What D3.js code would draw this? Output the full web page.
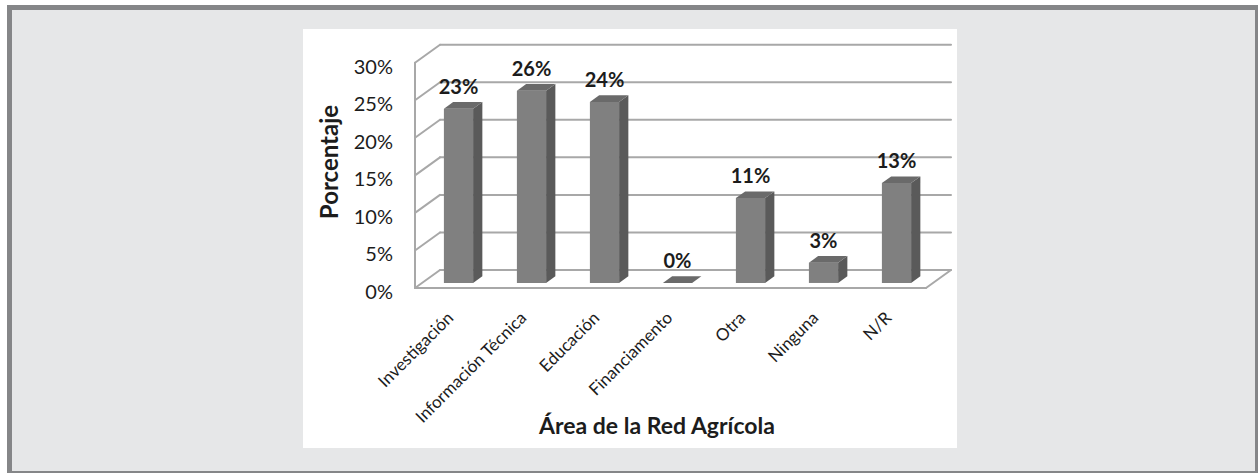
<!DOCTYPE html>
<html>
<head>
<meta charset="utf-8">
<script src="https://cdn.jsdelivr.net/npm/d3@7"></script>
<style>
  html, body { margin: 0; padding: 0; background: #ffffff; }
  svg { display: block; }
  text { font-family: Lato, "Open Sans", sans-serif; fill: #1c1c1c; }
</style>
</head>
<body>
<svg id="chart" width="1258" height="473"></svg>
<script>
// ---- data ----
const categories = ["Investigación", "Información Técnica", "Educación", "Financiamento", "Otra", "Ninguna", "N/R"];
const values = [23.2, 25.6, 24.1, 0, 11.3, 2.7, 13.3];
const valueLabels = ["23%", "26%", "24%", "0%", "11%", "3%", "13%"];
const yTicks = [0, 5, 10, 15, 20, 25, 30];
const yTickLabels = ["0%", "5%", "10%", "15%", "20%", "25%", "30%"];
const yTitle = "Porcentaje";
const xTitle = "Área de la Red Agrícola";

const svg = d3.select("#chart");

// ---- frame ----
svg.append("rect").attr("x", 7).attr("y", 5).attr("width", 1258 - 7).attr("height", 473 - 5).attr("fill", "#858688");
svg.append("rect").attr("x", 12).attr("y", 10).attr("width", 1255 - 12).attr("height", 471 - 10).attr("fill", "#e6e7e8");
svg.append("rect").attr("x", 303).attr("y", 29).attr("width", 957 - 303).attr("height", 448 - 29).attr("fill", "#ffffff");

// ---- scales (front plane) + oblique depth ----
const DX = 25, DY = -18;
const x = d3.scaleBand().domain(categories).range([415, 926]).paddingInner(0.6).paddingOuter(0.3);
const y = d3.scaleLinear().domain([0, 30]).range([288, 62.7]);
const X0 = x.range()[0], X1 = x.range()[1];
const P = (px, v, d) => [px + d * DX, y(v) + d * DY];
const grid = "#a8a8a8";

const g = svg.append("g");
const line = (a, b) => g.append("line")
  .attr("x1", a[0]).attr("y1", a[1]).attr("x2", b[0]).attr("y2", b[1])
  .attr("stroke", grid).attr("stroke-width", 2).attr("stroke-linecap", "round");

// back wall gridlines + left wall diagonals
yTicks.forEach(t => {
  line(P(X0, t, 1), P(X1, t, 1));
  line(P(X0, t, 0), P(X0, t, 1));
});
// left wall front edge
line(P(X0, 0, 0), P(X0, 30, 0));
// floor
line(P(X0, 0, 0), P(X1, 0, 0));
line(P(X1, 0, 0), P(X1, 0, 1));

// ---- y tick labels ----
svg.append("g").selectAll("text").data(yTicks).join("text")
  .attr("x", 393).attr("y", t => y(t) + 3)
  .attr("text-anchor", "end").attr("dominant-baseline", "central")
  .style("font-size", "20px")
  .text((t, i) => yTickLabels[i]);

// ---- bars ----
const d0 = 0.28, d1 = 0.65;
const bw = x.bandwidth();
const pts = arr => arr.map(p => p.join(",")).join(" ");
const bars = svg.append("g").selectAll("g").data(categories).join("g");
bars.each(function (c, i) {
  const v = values[i];
  const xa = x(c), xb = x(c) + bw;
  const sel = d3.select(this);
  if (v > 0) {
    sel.append("polygon").attr("points", pts([P(xa, 0, d0), P(xb, 0, d0), P(xb, v, d0), P(xa, v, d0)])).attr("fill", "#808080");
    sel.append("polygon").attr("points", pts([P(xb, 0, d0), P(xb, 0, d1), P(xb, v, d1), P(xb, v, d0)])).attr("fill", "#5a5a5a");
  }
  sel.append("polygon").attr("points", pts([P(xa, v, d0), P(xb, v, d0), P(xb, v, d1), P(xa, v, d1)])).attr("fill", "#6a6a6a");
});

// ---- value labels ----
svg.append("g").selectAll("text").data(categories).join("text")
  .attr("x", c => x(c) + bw / 2 + d0 * DX)
  .attr("y", (c, i) => y(values[i]) + d0 * DY - 15)
  .attr("text-anchor", "middle")
  .style("font-size", "20px").style("font-weight", "bold")
  .text((c, i) => valueLabels[i]);

// ---- category labels ----
svg.append("g").selectAll("text").data(categories).join("text")
  .attr("transform", c => `translate(${x(c) + bw / 2 + d0 * DX - 4},319) rotate(-45)`)
  .attr("text-anchor", "end")
  .style("font-size", "17px")
  .text(c => c);

// ---- axis titles ----
svg.append("text")
  .attr("transform", "translate(338,162) rotate(-90)")
  .attr("text-anchor", "middle")
  .style("font-size", "24px").style("font-weight", "bold")
  .text(yTitle);
svg.append("text")
  .attr("x", 657).attr("y", 434)
  .attr("text-anchor", "middle")
  .style("font-size", "23px").style("font-weight", "bold")
  .text(xTitle);
</script>
</body>
</html>
